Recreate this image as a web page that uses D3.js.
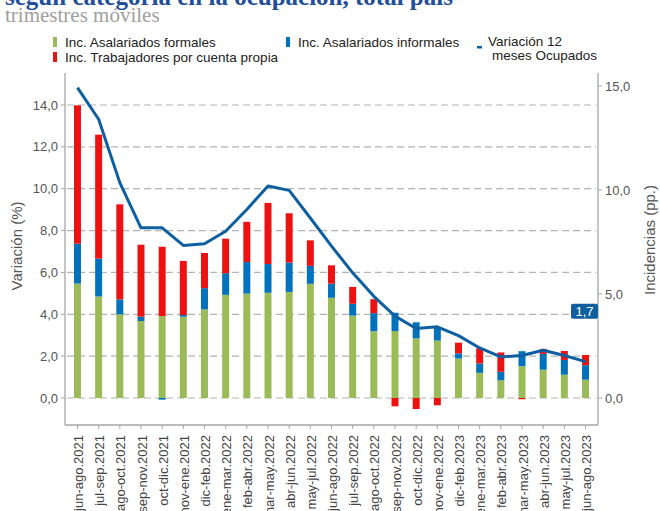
<!DOCTYPE html>
<html>
<head>
<meta charset="utf-8">
<script src="https://cdn.jsdelivr.net/npm/d3@7"></script>
<style>
  body { margin: 0; background: #fff; }
  svg { display: block; }
</style>
</head>
<body>
<script>
// datos: trimestres moviles
const categorias = ["jun-ago.2021", "jul-sep.2021", "ago-oct.2021", "sep-nov.2021", "oct-dic.2021",
  "nov-ene.2021", "dic-feb.2022", "ene-mar.2022", "feb-abr.2022", "mar-may.2022", "abr-jun.2022",
  "may-jul.2022", "jun-ago.2022", "jul-sep.2022", "ago-oct.2022", "sep-nov.2022", "oct-dic.2022",
  "nov-ene.2022", "dic-feb.2023", "ene-mar.2023", "feb-abr.2023", "mar-may.2023", "abr-jun.2023",
  "may-jul.2023", "jun-ago.2023"];

const asalariadosFormales = [5.50, 4.88, 4.02, 3.70, 3.94, 3.91, 4.26, 4.96, 5.02, 5.06, 5.10, 5.49, 4.82,
  3.96, 3.21, 3.22, 2.87, 2.76, 1.90, 1.21, 0.85, 1.53, 1.36, 1.12, 0.88];
const asalariadosInformales = [1.92, 1.82, 0.72, 0.21, -0.08, 0.08, 1.02, 1.04, 1.52, 1.38, 1.41, 0.86, 0.68,
  0.57, 0.87, 0.88, 0.77, 0.62, 0.25, 0.45, 0.41, 0.72, 0.76, 0.71, 0.70];
const cuentaPropia = [6.65, 5.96, 4.57, 3.46, 3.33, 2.60, 1.69, 1.66, 1.93, 2.94, 2.37, 1.23, 0.88,
  0.81, 0.67, -0.40, -0.53, -0.35, 0.51, 0.73, 0.93, -0.06, 0.24, 0.43, 0.49];
const variacionOcupados = [14.83, 13.32, 10.29, 8.13, 8.13, 7.29, 7.37, 7.97, 9.01, 10.13, 9.92, 8.60, 7.26,
  5.98, 4.86, 3.91, 3.32, 3.40, 2.98, 2.39, 1.96, 2.03, 2.28, 2.03, 1.74];

const ticksIzq = [0, 2, 4, 6, 8, 10, 12, 14];
const ticksDer = [0, 5, 10, 15];

const width = 660, height = 511;
const mLeft = 65, mRight = 598, mTop = 73, mBottom = 425;

const svg = d3.select("body")
  .append("svg")
  .attr("width", width)
  .attr("height", height)
  .style("font-family", "Liberation Sans, Arial, sans-serif");

const x = d3.scaleBand()
  .domain(categorias)
  .range([67, 596])
  .paddingInner(0.67)
  .paddingOuter(0.33);

// eje izquierdo (variacion) y derecho (incidencias)
const yIzq = d3.scaleLinear().domain([0, 14]).range([398, 105]);
const yDer = d3.scaleLinear().domain([0, 15]).range([398, 86]);

const fmt = function (v) { return d3.format(".1f")(v).replace(".", ","); };

// grilla
svg.append("g")
  .selectAll("line")
  .data(ticksIzq)
  .enter()
  .append("line")
  .attr("x1", mLeft + 2)
  .attr("x2", mRight - 2)
  .attr("y1", function (d) { return yIzq(d); })
  .attr("y2", function (d) { return yIzq(d); })
  .attr("stroke", "#b3b3b3")
  .attr("stroke-width", 1.2)
  .attr("stroke-dasharray", "7,4");

// barras apiladas
const filas = categorias.map(function (c, i) {
  return { cat: c, formales: asalariadosFormales[i], informales: asalariadosInformales[i], propia: cuentaPropia[i] };
});
const claves = ["formales", "informales", "propia"];
const colores = { formales: "#9bbb59", informales: "#0072bc", propia: "#ee1111" };

const series = d3.stack()
  .keys(claves)
  .offset(d3.stackOffsetDiverging)(filas);

svg.append("g")
  .selectAll("g")
  .data(series)
  .enter()
  .append("g")
  .attr("fill", function (s) { return colores[s.key]; })
  .selectAll("rect")
  .data(function (s) { return s; })
  .enter()
  .append("rect")
  .attr("x", function (d) { return x(d.data.cat); })
  .attr("width", x.bandwidth())
  .attr("y", function (d) { return yDer(Math.max(d[0], d[1])); })
  .attr("height", function (d) { return Math.abs(yDer(d[0]) - yDer(d[1])); });

// linea variacion 12 meses
const linea = d3.line()
  .x(function (d, i) { return x(categorias[i]) + x.bandwidth() / 2; })
  .y(function (d) { return yIzq(d); });

svg.append("path")
  .datum(variacionOcupados)
  .attr("d", linea)
  .attr("fill", "none")
  .attr("stroke", "#0d5fa0")
  .attr("stroke-width", 3)
  .attr("stroke-linejoin", "round");

// ejes
const colorEje = "#a6a6a6";
svg.append("line").attr("x1", mLeft).attr("x2", mLeft).attr("y1", mTop).attr("y2", mBottom)
  .attr("stroke", colorEje).attr("stroke-width", 1.3);
svg.append("line").attr("x1", mLeft).attr("x2", mRight).attr("y1", mBottom).attr("y2", mBottom)
  .attr("stroke", colorEje).attr("stroke-width", 1.3);
svg.append("line").attr("x1", mRight).attr("x2", mRight).attr("y1", mTop).attr("y2", mBottom)
  .attr("stroke", colorEje).attr("stroke-width", 1.3);

const gIzq = svg.append("g");
gIzq.selectAll("line")
  .data(ticksIzq)
  .enter()
  .append("line")
  .attr("x1", mLeft - 4).attr("x2", mLeft)
  .attr("y1", function (d) { return yIzq(d); })
  .attr("y2", function (d) { return yIzq(d); })
  .attr("stroke", colorEje);
gIzq.selectAll("text")
  .data(ticksIzq)
  .enter()
  .append("text")
  .attr("x", mLeft - 7)
  .attr("y", function (d) { return yIzq(d); })
  .attr("dy", "0.35em")
  .attr("text-anchor", "end")
  .attr("font-size", 13)
  .attr("fill", "#555")
  .text(fmt);

const gDer = svg.append("g");
gDer.selectAll("line")
  .data(ticksDer)
  .enter()
  .append("line")
  .attr("x1", mRight).attr("x2", mRight + 4)
  .attr("y1", function (d) { return yDer(d); })
  .attr("y2", function (d) { return yDer(d); })
  .attr("stroke", colorEje);
gDer.selectAll("text")
  .data(ticksDer)
  .enter()
  .append("text")
  .attr("x", mRight + 7)
  .attr("y", function (d) { return yDer(d); })
  .attr("dy", "0.35em")
  .attr("font-size", 13)
  .attr("fill", "#555")
  .text(fmt);

// eje x
const gX = svg.append("g");
gX.selectAll("line")
  .data(categorias)
  .enter()
  .append("line")
  .attr("x1", function (d) { return x(d) + x.bandwidth() / 2; })
  .attr("x2", function (d) { return x(d) + x.bandwidth() / 2; })
  .attr("y1", mBottom).attr("y2", mBottom + 4)
  .attr("stroke", colorEje);
gX.selectAll("text")
  .data(categorias)
  .enter()
  .append("text")
  .attr("transform", function (d) {
    return "translate(" + (x(d) + x.bandwidth() / 2 + 1) + "," + (mBottom + 10) + ") rotate(-90)";
  })
  .attr("dy", "0.35em")
  .attr("text-anchor", "end")
  .attr("font-size", 13)
  .attr("fill", "#444")
  .text(function (d) { return d; });

// titulos de ejes
svg.append("text")
  .attr("transform", "translate(22,246) rotate(-90)")
  .attr("text-anchor", "middle")
  .attr("font-size", 15)
  .attr("fill", "#555")
  .text("Variación (%)");
svg.append("text")
  .attr("transform", "translate(655,240) rotate(-90)")
  .attr("text-anchor", "middle")
  .attr("font-size", 15)
  .attr("fill", "#555")
  .text("Incidencias (pp.)");

// etiqueta del ultimo valor
const ultimo = variacionOcupados[variacionOcupados.length - 1];
const gEtiq = svg.append("g").attr("transform", "translate(" + (mRight - 27) + "," + (yDer(4.2) - 7) + ")");
gEtiq.append("rect")
  .attr("width", 27).attr("height", 15).attr("rx", 2)
  .attr("fill", "#0d5fa0");
gEtiq.append("text")
  .attr("x", 13.5).attr("y", 7.5).attr("dy", "0.36em")
  .attr("text-anchor", "middle")
  .attr("font-size", 13)
  .attr("fill", "#fff")
  .text(d3.format(".1f")(ultimo).replace(".", ","));

// titulo
svg.append("text")
  .attr("x", 5).attr("y", 5)
  .attr("font-family", "Liberation Serif, serif")
  .attr("font-weight", "bold")
  .attr("font-size", 25)
  .attr("fill", "#1f4e9a")
  .text("según categoría en la ocupación, total país");
svg.append("text")
  .attr("x", 5).attr("y", 22)
  .attr("font-family", "Liberation Serif, serif")
  .attr("font-size", 21)
  .attr("fill", "#a0a0a0")
  .text("trimestres móviles");

// leyenda
const leyenda = [
  { txt: "Inc. Asalariados formales", color: colores.formales, x: 53, y: 42 },
  { txt: "Inc. Trabajadores por cuenta propia", color: colores.propia, x: 53, y: 57 },
  { txt: "Inc. Asalariados informales", color: colores.informales, x: 286, y: 42 }
];
const gLey = svg.append("g");
leyenda.forEach(function (l) {
  gLey.append("rect")
    .attr("x", l.x).attr("y", l.y - 5)
    .attr("width", 4).attr("height", 10)
    .attr("fill", l.color);
  gLey.append("text")
    .attr("x", l.x + 12).attr("y", l.y)
    .attr("dy", "0.35em")
    .attr("font-size", 13.5)
    .attr("fill", "#222")
    .text(l.txt);
});
gLey.append("rect")
  .attr("x", 477).attr("y", 46)
  .attr("width", 5).attr("height", 2.5)
  .attr("fill", "#0d5fa0");
gLey.append("text")
  .attr("x", 488).attr("y", 41).attr("dy", "0.35em")
  .attr("font-size", 13.5).attr("fill", "#222")
  .text("Variación 12");
gLey.append("text")
  .attr("x", 492).attr("y", 55).attr("dy", "0.35em")
  .attr("font-size", 13.5).attr("fill", "#222")
  .text("meses Ocupados");
</script>
</body>
</html>
